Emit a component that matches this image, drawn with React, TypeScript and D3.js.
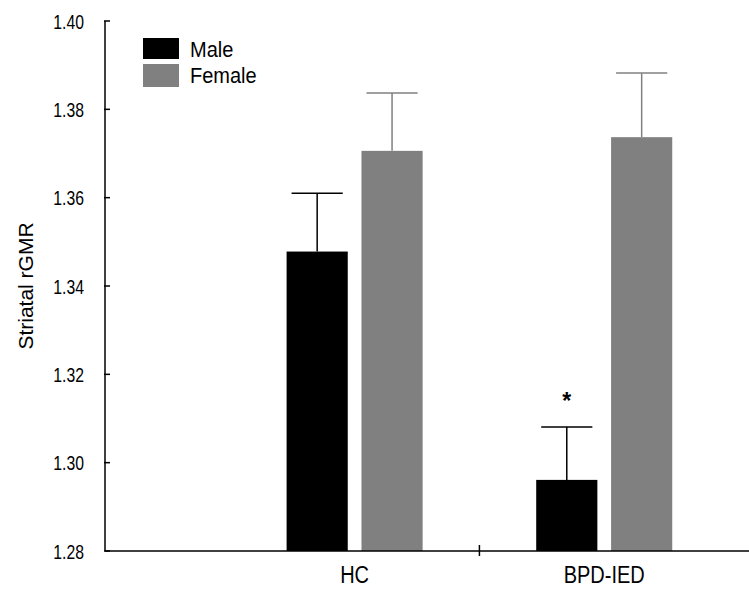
import React from 'react'
import * as d3 from 'd3'

const groups = ['HC', 'BPD-IED']
const series = ['Male', 'Female']
const means = [
  [1.3478, 1.3706],
  [1.2961, 1.3737],
]
const upper = [
  [1.3610, 1.3837],
  [1.3081, 1.3882],
]
const yTicks = [1.28, 1.3, 1.32, 1.34, 1.36, 1.38, 1.4]
const colors = ['#000000', '#808080']

const W = 749
const H = 589
const left = 105
const top = 21
const bottom = 551

export default function App() {
  const y = d3.scaleLinear().domain([1.28, 1.4]).range([bottom, top])
  const x = d3.scaleLinear().domain([0, 2.58]).range([left, W])
  const barW = x(0.245) - x(0)
  const offset = 0.15
  const capW = x(0.205) - x(0)

  return (
    <svg width={W} height={H} style={{ position: 'absolute', left: 0, top: 0, fontFamily: 'Liberation Sans, Arial, sans-serif' }}>
      <rect width={W} height={H} fill="#fff" />
      {/* bars with upper error bars */}
      {groups.map((g, gi) =>
        series.map((s, si) => {
          const cx = x(gi + 1 + (si === 0 ? -offset : offset))
          const col = colors[si]
          return (
            <g key={g + s}>
              <line x1={cx} x2={cx} y1={y(means[gi][si])} y2={y(upper[gi][si])} stroke={col} strokeWidth={1.5} />
              <line x1={cx - capW / 2} x2={cx + capW / 2} y1={y(upper[gi][si])} y2={y(upper[gi][si])} stroke={col} strokeWidth={1.5} />
              <rect x={cx - barW / 2} y={y(means[gi][si])} width={barW} height={y(1.28) - y(means[gi][si])} fill={col} />
            </g>
          )
        })
      )}
      <text x={x(2 - offset)} y={y(upper[1][0]) - 18} textAnchor="middle" fontSize={23} fontWeight="bold">*</text>
      {/* y axis */}
      <line x1={left} x2={left} y1={y(1.4)} y2={y(1.28)} stroke="#000" strokeWidth={1.5} />
      {yTicks.map(t => (
        <g key={t}>
          <line x1={left - 1} x2={left + 5} y1={y(t)} y2={y(t)} stroke="#000" strokeWidth={1.5} />
          <text transform={`translate(${left - 21},${y(t) + 7.5}) scale(0.75,1)`} textAnchor="end" fontSize={21}>{t.toFixed(2)}</text>
        </g>
      ))}
      <text transform={`translate(33,${(y(1.28) + y(1.4)) / 2}) rotate(-90)`} textAnchor="middle" fontSize={21}>Striatal rGMR</text>
      {/* x axis */}
      <line x1={left} x2={W} y1={bottom} y2={bottom} stroke="#000" strokeWidth={1.5} />
      <line x1={x(1.5)} x2={x(1.5)} y1={bottom - 6} y2={bottom + 5} stroke="#000" strokeWidth={1.5} />
      {groups.map((g, gi) => (
        <text key={g} transform={`translate(${x(gi + 1)},${bottom + 32}) scale(1,1.15)`} textAnchor="middle" fontSize={20}>{g}</text>
      ))}
      {/* legend */}
      {series.map((s, si) => (
        <g key={s} transform={`translate(143,${38 + si * 26})`}>
          <rect width={36} height={21 + si * 2} fill={colors[si]} />
          <text transform={`translate(47,${19 + si * 0}) scale(1,1.08)`} fontSize={20}>{s}</text>
        </g>
      ))}
    </svg>
  )
}
